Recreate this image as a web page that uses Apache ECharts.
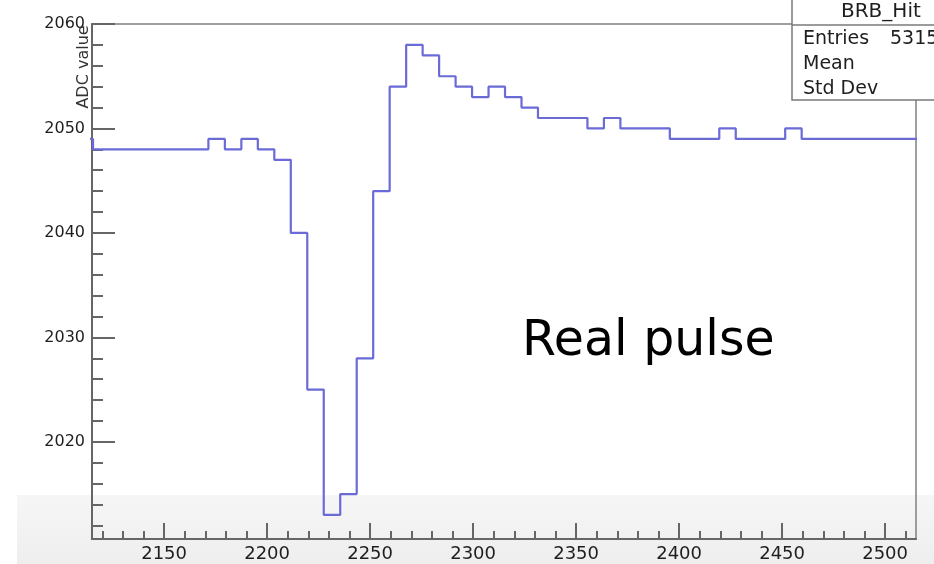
<!DOCTYPE html>
<html>
<head>
<meta charset="utf-8">
<script src="https://cdn.jsdelivr.net/npm/echarts@6/dist/echarts.min.js"></script>
<style>
  html, body { margin: 0; padding: 0; background: #ffffff; }
  #chart { width: 934px; height: 564px; }
</style>
</head>
<body>
<div id="chart"></div>
<script>
// ADC samples of one BRB hit, one value per 8-count bin
const binStart = 2107.5;
const binWidth = 8;
const adcValues = [
  2049,
  2048, 2048, 2048, 2048, 2048, 2048, 2048,
  2049, 2048, 2049, 2048, 2047,
  2040, 2025, 2013, 2015, 2028, 2044,
  2054, 2058, 2057, 2055, 2054, 2053, 2054, 2053, 2052,
  2051, 2051, 2051, 2050, 2051, 2050, 2050, 2050,
  2049, 2049, 2049, 2050, 2049, 2049, 2049, 2050,
  2049, 2049, 2049, 2049, 2049, 2049, 2049
];

// axis ranges and ticks
const xRange = [2115, 2515];
const yRange = [2010.7, 2060];
const xTickLabels = [2150, 2200, 2250, 2300, 2350, 2400, 2450, 2500];
const yTickLabels = [2020, 2030, 2040, 2050, 2060];
const xMinorStep = 10;
const yMinorStep = 2;

// stats box text
const statsTitle = 'BRB_Hit';
const statsRows = [['Entries', '5315'], ['Mean', ''], ['Std Dev', '']];
const yTitle = 'ADC value';
const noteText = 'Real pulse';

function minorTicks(range, step, majors) {
  const out = [];
  const first = Math.ceil(range[0] / step) * step;
  for (let v = first; v <= range[1] + 1e-9; v += step) {
    if (majors.indexOf(v) < 0) out.push(v);
  }
  return out;
}

// histogram outline: flat top across each bin, vertical joins between bins
const outline = [];
adcValues.forEach(function (v, i) {
  const lo = binStart + i * binWidth;
  outline.push([lo, v], [lo + binWidth, v]);
});

const FONT = 'DejaVu Sans';
const AXIS_COLOR = '#666666';
const TEXT_COLOR = '#1e1e1e';
const plain = function (v) { return String(v); };

const chart = echarts.init(document.getElementById('chart'), null, { renderer: 'canvas' });

const option = {
  animation: false,
  backgroundColor: '#ffffff',
  grid: {
    left: 92, right: 18, top: 24, bottom: 25,
    show: true, borderColor: '#808080', borderWidth: 1.5,
    backgroundColor: 'transparent'
  },
  xAxis: [
    {
      type: 'value', min: xRange[0], max: xRange[1],
      splitLine: { show: false },
      axisLine: { show: true, lineStyle: { color: AXIS_COLOR, width: 2 } },
      axisTick: { show: true, inside: true, length: 16, customValues: xTickLabels,
                  lineStyle: { color: AXIS_COLOR, width: 2 } },
      axisLabel: { show: true, customValues: xTickLabels, margin: 6, formatter: plain,
                   fontFamily: FONT, fontSize: 18, color: TEXT_COLOR }
    },
    {
      type: 'value', min: xRange[0], max: xRange[1], position: 'bottom',
      splitLine: { show: false },
      axisLine: { show: false },
      axisTick: { show: true, inside: true, length: 8,
                  customValues: minorTicks(xRange, xMinorStep, xTickLabels),
                  lineStyle: { color: AXIS_COLOR, width: 2 } },
      axisLabel: { show: false }
    }
  ],
  yAxis: [
    {
      type: 'value', min: yRange[0], max: yRange[1],
      splitLine: { show: false },
      axisLine: { show: true, lineStyle: { color: AXIS_COLOR, width: 2 } },
      axisTick: { show: true, inside: true, length: 23, customValues: yTickLabels,
                  lineStyle: { color: AXIS_COLOR, width: 2 } },
      axisLabel: { show: true, customValues: yTickLabels, margin: 7, formatter: plain,
                   fontFamily: FONT, fontSize: 16, color: TEXT_COLOR }
    },
    {
      type: 'value', min: yRange[0], max: yRange[1], position: 'left',
      splitLine: { show: false },
      axisLine: { show: false },
      axisTick: { show: true, inside: true, length: 11,
                  customValues: minorTicks(yRange, yMinorStep, yTickLabels),
                  lineStyle: { color: AXIS_COLOR, width: 2 } },
      axisLabel: { show: false }
    }
  ],
  series: [
    {
      type: 'line',
      xAxisIndex: 0, yAxisIndex: 0,
      data: outline,
      symbol: 'none',
      clip: true,
      lineStyle: { color: '#6b6bd8', width: 2.2 },
      z: 5
    }
  ],
  graphic: [
    // light band along the lower edge
    {
      type: 'rect', z: -1, silent: true,
      shape: { x: 17, y: 495, width: 917, height: 69 },
      style: {
        fill: new echarts.graphic.LinearGradient(0, 0, 0, 1, [
          { offset: 0, color: '#f6f6f6' },
          { offset: 1, color: '#eeeeee' }
        ])
      }
    },
    // axis title
    {
      type: 'text', z: 20, silent: true,
      x: 84, y: 67, rotation: Math.PI / 2,
      style: { text: yTitle, fontFamily: FONT, fontSize: 16, fill: '#333333',
               align: 'center', verticalAlign: 'middle' }
    },
    // annotation
    {
      type: 'text', z: 20, silent: true,
      x: 522, y: 342,
      style: { text: noteText, fontFamily: FONT, fontSize: 49, fill: '#000000',
               align: 'left', verticalAlign: 'middle' }
    },
    // stats box
    {
      type: 'group', z: 30,
      children: [
        {
          type: 'rect', z: 30,
          shape: { x: 792, y: -2, width: 160, height: 102 },
          style: { fill: '#ffffff', stroke: '#7a7a7a', lineWidth: 1.5 }
        },
        {
          type: 'line', z: 31,
          shape: { x1: 792, y1: 25, x2: 934, y2: 25 },
          style: { stroke: '#7a7a7a', lineWidth: 1.5 }
        },
        {
          type: 'text', z: 31, x: 841, y: 12,
          style: { text: statsTitle, fontFamily: FONT, fontSize: 20, fill: TEXT_COLOR,
                   align: 'left', verticalAlign: 'middle' }
        }
      ].concat(statsRows.map(function (row, i) {
        return {
          type: 'text', z: 31, x: 803, y: 39 + i * 25,
          style: { text: row[0], fontFamily: FONT, fontSize: 19, fill: TEXT_COLOR,
                   align: 'left', verticalAlign: 'middle' }
        };
      })).concat(statsRows.filter(function (row) { return row[1]; }).map(function (row, i) {
        return {
          type: 'text', z: 31, x: 890, y: 39 + i * 25,
          style: { text: row[1], fontFamily: FONT, fontSize: 19, fill: TEXT_COLOR,
                   align: 'left', verticalAlign: 'middle' }
        };
      }))
    }
  ]
};

chart.setOption(option);
</script>
</body>
</html>
